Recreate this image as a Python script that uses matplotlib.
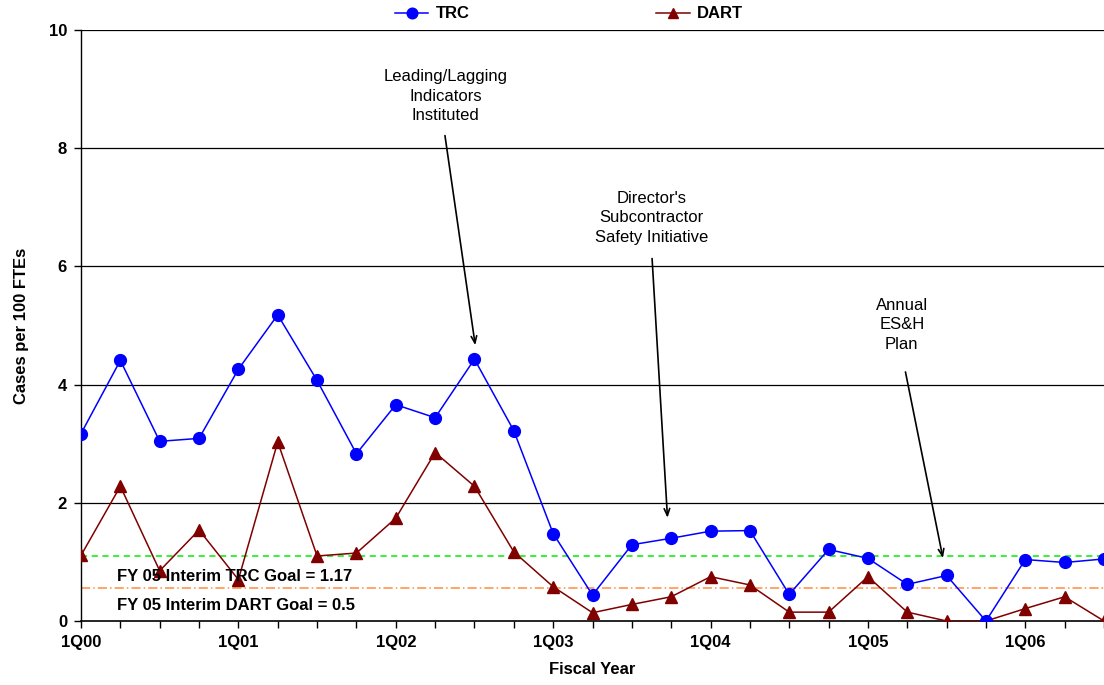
import matplotlib
matplotlib.use("Agg")
from matplotlib import pyplot as plt
import numpy as np

plt.rcParams['font.family'] = ['Liberation Sans', 'DejaVu Sans']

# quarterly rates, 1Q00 .. 3Q06
trc = [3.17, 4.41, 3.04, 3.09, 4.26, 5.18, 4.07, 2.83, 3.66, 3.44, 4.43, 3.22,
       1.48, 0.44, 1.29, 1.40, 1.52, 1.53, 0.45, 1.21, 1.06, 0.62, 0.77, 0.0,
       1.04, 0.99, 1.05]
dart = [1.11, 2.28, 0.85, 1.54, 0.70, 3.03, 1.10, 1.15, 1.74, 2.85, 2.28, 1.17,
        0.58, 0.14, 0.28, 0.41, 0.75, 0.61, 0.15, 0.15, 0.75, 0.15, 0.0, 0.0,
        0.21, 0.41, 0.0]
year_labels = ['1Q00', '1Q01', '1Q02', '1Q03', '1Q04', '1Q05', '1Q06']
trc_goal = 1.10
dart_goal = 0.55

x = np.arange(len(trc))

fig = plt.figure(figsize=(11.04, 6.85), dpi=100)
# axes run off the right side of the picture, like the original
ax = fig.add_axes([81 / 1104, 64 / 685, 1023 / 1104, 591 / 685])

for yv in [2, 4, 6, 8, 10]:
    ax.axhline(yv, color='black', lw=0.9, zorder=1)

ax.axhline(trc_goal, color='#00ee00', lw=1.1, ls=(0, (4, 3)), zorder=2)
ax.axhline(dart_goal, color='#ff8c40', lw=1.1, ls=(0, (6, 2, 1, 2)), zorder=2)

ax.plot(x, trc, color='#0000ff', lw=1.1, marker='o', ms=8.5, label='TRC', zorder=4)
ax.plot(x, dart, color='#800000', lw=1.1, marker='^', ms=8, label='DART', zorder=3)

ax.set_xlim(0, 1023 / 39.5)
ax.set_ylim(0, 10)
ax.set_xticks(x)
ax.set_xticklabels(['' if i % 4 else year_labels[i // 4] for i in x])
ax.set_yticks([0, 2, 4, 6, 8, 10])
ax.tick_params(axis='both', direction='out', length=5, width=1, labelsize=12, pad=5)
for lab in ax.get_xticklabels() + ax.get_yticklabels():
    lab.set_fontweight('bold')
for s in ['right', 'top']:
    ax.spines[s].set_visible(False)
ax.spines['left'].set_linewidth(1)
ax.spines['bottom'].set_linewidth(1.2)

ax.set_ylabel('Cases per 100 FTEs', fontsize=12, fontweight='bold', labelpad=14)
ax.set_xlabel('Fiscal Year', fontsize=12, fontweight='bold', labelpad=9)

ax.text(0.91, 0.76, 'FY 05 Interim TRC Goal = 1.17', fontsize=12,
        fontweight='bold', va='center', zorder=5)
ax.text(0.91, 0.27, 'FY 05 Interim DART Goal = 0.5', fontsize=12,
        fontweight='bold', va='center', zorder=5)

notes = [
    ('Leading/Lagging\nIndicators\nInstituted', (9.27, 8.88), (9.24, 8.26), (10.03, 4.62)),
    ("Director's\nSubcontractor\nSafety Initiative", (14.5, 6.82), (14.51, 6.18), (14.91, 1.70)),
    ('Annual\nES&H\nPlan', (20.86, 5.01), (20.94, 4.26), (21.92, 1.02)),
]
for txt, tpos, start, head in notes:
    ax.text(tpos[0], tpos[1], txt, fontsize=12, ha='center', va='center',
            linespacing=1.4)
    ax.annotate('', xy=head, xytext=start,
                arrowprops=dict(arrowstyle='->,head_length=0.5,head_width=0.2',
                                color='black', lw=1.2))

fig.legend(loc='center', bbox_to_anchor=(569 / 1104, 1 - 14 / 685), ncol=2,
           frameon=False, handlelength=2.0, handletextpad=0.45, columnspacing=11.2,
           prop={'weight': 'bold', 'size': 12}, markerscale=0.9)

fig.savefig('out.png', dpi=100)
